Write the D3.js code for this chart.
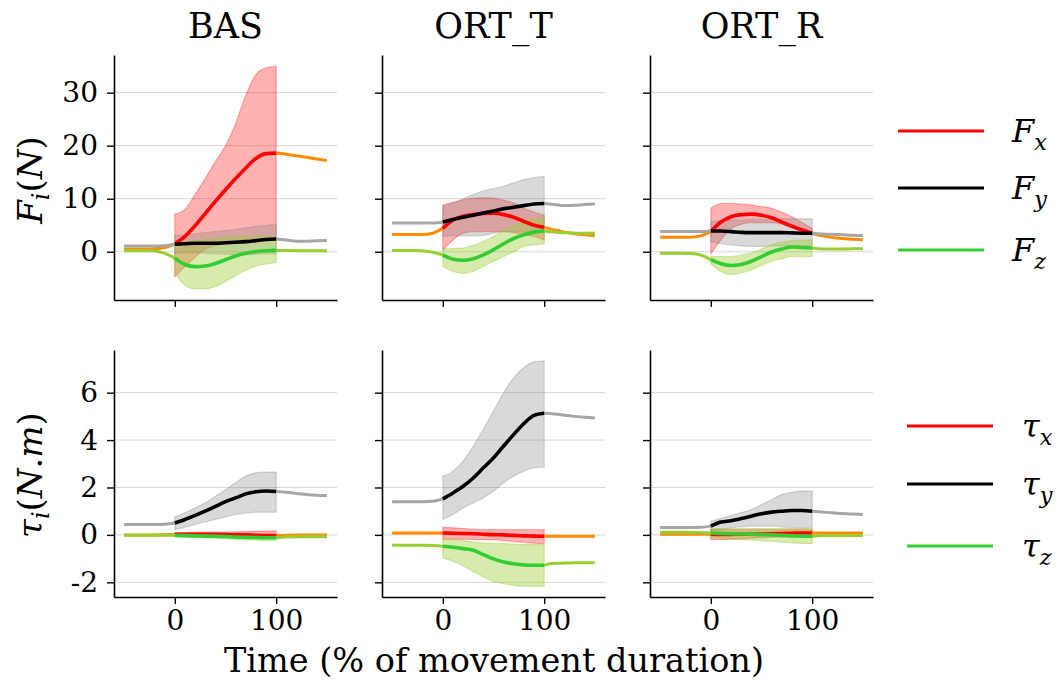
<!DOCTYPE html>
<html>
<head>
<meta charset="utf-8">
<script src="https://d3js.org/d3.v7.min.js"></script>
<style>
  body { margin: 0; background: #fff; }
  svg text { fill: #000; font-family: 'DejaVu Serif', serif; }
</style>
</head>
<body>
<svg id="plot" width="1060" height="681"></svg>
<script>
// ---- data ----
const groups = ["BAS", "ORT_T", "ORT_R"];
// mean curves sampled every 10 % from -50 to 150
const time = [-50, -40, -30, -20, -10, 0, 10, 20, 30, 40, 50, 60, 70, 80, 90, 100, 110, 120, 130, 140, 150];
// spread bands sampled every 10 % over the movement (0..100)
const bandTime = [0, 10, 20, 30, 40, 50, 60, 70, 80, 90, 100];

const forceTicks = [0, 10, 20, 30];
const torqueTicks = [-2, 0, 2, 4, 6];
const timeTicks = [0, 100];

// BAS forces
const BAS_Fx = [0.5, 0.5, 0.5, 0.55, 0.8, 1.5, 2.9, 4.9, 7.2, 9.5, 11.7, 13.8, 15.8, 17.6, 18.5, 18.6, 18.4, 18.1, 17.8, 17.5, 17.2];
const BAS_Fx_lo = [-4.7, -2.8, -1.0, 0.5, 1.2, 1.6, 2.0, 2.3, 2.5, 2.4, 2.2];
const BAS_Fx_hi = [7.1, 8.0, 10.8, 13.8, 17.0, 20.0, 24.2, 29.5, 33.4, 34.7, 35.0];
const BAS_Fy = [1.1, 1.1, 1.1, 1.1, 1.15, 1.4, 1.5, 1.6, 1.6, 1.6, 1.7, 1.8, 1.9, 2.1, 2.3, 2.4, 2.2, 2.0, 2.0, 2.05, 2.1];
const BAS_Fy_lo = [-0.3, -0.2, -0.2, -0.3, -0.4, -0.5, -0.5, -0.6, -0.5, -0.4, -0.4];
const BAS_Fy_hi = [3.1, 3.2, 3.4, 3.6, 3.8, 4.0, 4.2, 4.5, 4.8, 5.0, 5.2];
const BAS_Fz = [0.2, 0.2, 0.2, 0.15, -0.3, -1.2, -2.4, -2.8, -2.7, -2.2, -1.5, -0.8, -0.3, 0.05, 0.2, 0.25, 0.25, 0.2, 0.2, 0.2, 0.2];
const BAS_Fz_lo = [-4.0, -6.3, -7.0, -7.0, -6.6, -5.6, -4.5, -3.5, -2.7, -2.3, -2.0];
const BAS_Fz_hi = [1.8, 1.9, 2.1, 2.3, 2.5, 2.7, 2.8, 2.9, 2.9, 2.9, 2.9];

// ORT_T forces
const ORTT_Fx = [3.25, 3.25, 3.25, 3.25, 3.5, 4.4, 6.0, 6.7, 7.0, 7.2, 7.25, 7.0, 6.5, 5.7, 5.0, 4.6, 4.1, 3.7, 3.4, 3.2, 3.0];
const ORTT_Fx_lo = [0.25, 2.2, 3.5, 3.8, 3.8, 3.8, 3.8, 3.6, 3.2, 2.9, 2.2];
const ORTT_Fx_hi = [8.8, 9.3, 9.8, 10.1, 10.2, 10.1, 9.7, 9.2, 8.2, 7.5, 6.9];
const ORTT_Fy = [5.4, 5.4, 5.4, 5.4, 5.4, 5.6, 6.1, 6.5, 6.9, 7.3, 7.7, 8.1, 8.4, 8.7, 9.0, 9.1, 8.9, 8.7, 8.75, 8.9, 9.0];
const ORTT_Fy_lo = [2.9, 3.0, 3.0, 3.0, 3.1, 3.5, 3.8, 3.8, 3.8, 4.0, 4.0];
const ORTT_Fy_hi = [8.5, 9.2, 10.0, 10.8, 11.5, 11.9, 12.4, 13.0, 13.6, 14.0, 14.2];
const ORTT_Fz = [0.25, 0.25, 0.25, 0.2, -0.1, -0.6, -1.4, -1.6, -1.3, -0.6, 0.4, 1.5, 2.5, 3.2, 3.7, 3.9, 3.7, 3.6, 3.5, 3.5, 3.5];
const ORTT_Fz_lo = [-2.75, -3.7, -4.1, -3.7, -2.75, -1.8, -0.9, 0.0, 1.0, 1.3, 1.5];
const ORTT_Fz_hi = [0.55, 0.6, 0.7, 1.2, 1.9, 2.9, 4.0, 4.9, 5.7, 6.1, 6.3];

// ORT_R forces
const ORTR_Fx = [2.75, 2.75, 2.75, 2.75, 3.0, 3.8, 5.6, 6.6, 7.0, 7.1, 6.9, 6.4, 5.6, 4.8, 4.1, 3.5, 3.0, 2.7, 2.5, 2.35, 2.25];
const ORTR_Fx_lo = [-0.4, 2.25, 4.4, 5.2, 5.5, 5.5, 5.5, 5.2, 4.75, 4.0, 3.2];
const ORTR_Fx_hi = [8.2, 9.1, 9.1, 9.0, 8.8, 8.5, 8.2, 7.5, 6.6, 5.5, 4.4];
const ORTR_Fy = [3.8, 3.8, 3.8, 3.8, 3.8, 3.9, 3.9, 3.8, 3.65, 3.6, 3.6, 3.6, 3.6, 3.55, 3.5, 3.5, 3.35, 3.3, 3.2, 3.1, 3.05];
const ORTR_Fy_lo = [1.9, 1.5, 1.3, 1.1, 1.0, 1.0, 1.1, 1.1, 1.1, 1.1, 1.1];
const ORTR_Fy_hi = [5.7, 5.9, 6.0, 6.0, 6.1, 6.1, 6.1, 6.2, 6.2, 6.2, 6.2];
const ORTR_Fz = [-0.3, -0.3, -0.3, -0.35, -0.6, -1.5, -2.25, -2.6, -2.4, -1.8, -0.9, -0.05, 0.5, 0.9, 0.8, 0.7, 0.5, 0.5, 0.5, 0.55, 0.55];
const ORTR_Fz_lo = [-2.25, -3.7, -4.3, -4.0, -3.4, -2.6, -1.8, -1.3, -0.9, -0.9, -0.9];
const ORTR_Fz_hi = [-0.9, -0.9, -0.9, -0.6, -0.25, 0.5, 1.3, 1.8, 2.1, 2.2, 2.25];

// BAS torques
const BAS_Tx = [0.0, 0.0, 0.0, 0.0, 0.01, 0.02, 0.03, 0.03, 0.02, 0.02, 0.01, 0.0, 0.0, -0.02, -0.03, -0.03, -0.01, 0.0, 0.0, 0.0, 0.0];
const BAS_Tx_lo = [-0.05, -0.06, -0.07, -0.08, -0.09, -0.1, -0.11, -0.12, -0.13, -0.14, -0.15];
const BAS_Tx_hi = [0.1, 0.1, 0.11, 0.12, 0.12, 0.12, 0.13, 0.14, 0.15, 0.16, 0.17];
const BAS_Ty = [0.44, 0.44, 0.44, 0.44, 0.45, 0.5, 0.65, 0.82, 1.0, 1.2, 1.4, 1.56, 1.73, 1.82, 1.85, 1.83, 1.8, 1.75, 1.7, 1.67, 1.66];
const BAS_Ty_lo = [0.22, 0.32, 0.44, 0.55, 0.65, 0.76, 0.86, 0.92, 0.96, 0.96, 0.96];
const BAS_Ty_hi = [0.75, 0.93, 1.14, 1.35, 1.63, 1.9, 2.2, 2.48, 2.62, 2.65, 2.65];
const BAS_Tz = [-0.01, -0.01, -0.01, -0.01, -0.01, -0.02, -0.03, -0.04, -0.05, -0.06, -0.07, -0.09, -0.1, -0.11, -0.12, -0.12, -0.09, -0.08, -0.08, -0.08, -0.08];
const BAS_Tz_lo = [-0.06, -0.08, -0.1, -0.12, -0.14, -0.16, -0.18, -0.2, -0.22, -0.23, -0.24];
const BAS_Tz_hi = [0.02, 0.02, 0.02, 0.01, 0.01, 0.0, 0.0, 0.0, -0.01, -0.02, -0.02];

// ORT_T torques
const ORTT_Tx = [0.08, 0.08, 0.08, 0.08, 0.08, 0.08, 0.07, 0.06, 0.05, 0.03, 0.01, 0.0, -0.02, -0.04, -0.05, -0.06, -0.06, -0.06, -0.06, -0.06, -0.06];
const ORTT_Tx_lo = [-0.17, -0.18, -0.18, -0.19, -0.2, -0.2, -0.24, -0.28, -0.32, -0.35, -0.37];
const ORTT_Tx_hi = [0.32, 0.3, 0.27, 0.24, 0.22, 0.22, 0.22, 0.22, 0.22, 0.22, 0.22];
const ORTT_Ty = [1.4, 1.4, 1.4, 1.4, 1.42, 1.52, 1.77, 2.05, 2.4, 2.83, 3.25, 3.75, 4.24, 4.7, 5.04, 5.13, 5.1, 5.05, 5.0, 4.96, 4.93];
const ORTT_Ty_lo = [0.65, 0.86, 1.14, 1.35, 1.56, 1.85, 2.2, 2.48, 2.69, 2.83, 2.86];
const ORTT_Ty_hi = [2.48, 2.69, 3.11, 3.75, 4.45, 5.23, 6.0, 6.63, 7.06, 7.3, 7.34];
const ORTT_Tz = [-0.44, -0.44, -0.44, -0.44, -0.45, -0.48, -0.52, -0.58, -0.65, -0.83, -1.01, -1.14, -1.22, -1.27, -1.28, -1.28, -1.2, -1.19, -1.18, -1.18, -1.18];
const ORTT_Tz_lo = [-0.97, -1.11, -1.3, -1.54, -1.77, -1.96, -2.06, -2.13, -2.17, -2.17, -2.17];
const ORTT_Tz_hi = [-0.17, -0.2, -0.24, -0.3, -0.34, -0.36, -0.37, -0.39, -0.41, -0.41, -0.41];

// ORT_R torques
const ORTR_Tx = [0.03, 0.03, 0.03, 0.03, 0.03, 0.03, 0.02, 0.02, 0.03, 0.03, 0.04, 0.05, 0.06, 0.07, 0.08, 0.08, 0.08, 0.08, 0.08, 0.08, 0.08];
const ORTR_Tx_lo = [-0.2, -0.19, -0.18, -0.16, -0.14, -0.12, -0.1, -0.09, -0.08, -0.08, -0.08];
const ORTR_Tx_hi = [0.22, 0.22, 0.22, 0.22, 0.22, 0.22, 0.22, 0.22, 0.22, 0.22, 0.22];
const ORTR_Ty = [0.31, 0.31, 0.31, 0.31, 0.32, 0.37, 0.54, 0.6, 0.69, 0.79, 0.89, 0.96, 1.0, 1.03, 1.03, 1.0, 0.97, 0.93, 0.9, 0.88, 0.86];
const ORTR_Ty_lo = [0.15, 0.22, 0.3, 0.34, 0.37, 0.37, 0.37, 0.34, 0.3, 0.3, 0.3];
const ORTR_Ty_hi = [0.58, 0.7, 0.82, 0.94, 1.07, 1.28, 1.49, 1.7, 1.8, 1.85, 1.85];
const ORTR_Tz = [0.11, 0.11, 0.11, 0.11, 0.1, 0.08, 0.06, 0.05, 0.04, 0.03, 0.01, 0.0, -0.02, -0.04, -0.05, -0.06, -0.03, -0.03, -0.03, -0.03, -0.03];
const ORTR_Tz_lo = [-0.13, -0.15, -0.18, -0.2, -0.22, -0.24, -0.27, -0.3, -0.34, -0.36, -0.37];
const ORTR_Tz_hi = [0.27, 0.27, 0.27, 0.27, 0.27, 0.27, 0.27, 0.27, 0.27, 0.27, 0.27];

// table: row -> group -> [mean, lo, hi] per component
const panels = [
  { BAS: [[BAS_Fx, BAS_Fx_lo, BAS_Fx_hi], [BAS_Fy, BAS_Fy_lo, BAS_Fy_hi], [BAS_Fz, BAS_Fz_lo, BAS_Fz_hi]],
    ORT_T: [[ORTT_Fx, ORTT_Fx_lo, ORTT_Fx_hi], [ORTT_Fy, ORTT_Fy_lo, ORTT_Fy_hi], [ORTT_Fz, ORTT_Fz_lo, ORTT_Fz_hi]],
    ORT_R: [[ORTR_Fx, ORTR_Fx_lo, ORTR_Fx_hi], [ORTR_Fy, ORTR_Fy_lo, ORTR_Fy_hi], [ORTR_Fz, ORTR_Fz_lo, ORTR_Fz_hi]] },
  { BAS: [[BAS_Tx, BAS_Tx_lo, BAS_Tx_hi], [BAS_Ty, BAS_Ty_lo, BAS_Ty_hi], [BAS_Tz, BAS_Tz_lo, BAS_Tz_hi]],
    ORT_T: [[ORTT_Tx, ORTT_Tx_lo, ORTT_Tx_hi], [ORTT_Ty, ORTT_Ty_lo, ORTT_Ty_hi], [ORTT_Tz, ORTT_Tz_lo, ORTT_Tz_hi]],
    ORT_R: [[ORTR_Tx, ORTR_Tx_lo, ORTR_Tx_hi], [ORTR_Ty, ORTR_Ty_lo, ORTR_Ty_hi], [ORTR_Tz, ORTR_Tz_lo, ORTR_Tz_hi]] }
];

// ---- styling ----
const mainColors = ["#ff0000", "#000000", "#32cd32"];
const sideColors = ["#ff8c00", "#a6a6a6", "#9acd32"];
const bandColors = ["#ff0000", "#808080", "#9acd32"];
const bandAlpha = [0.3, 0.3, 0.4];
const serif = "'DejaVu Serif', serif";

const svg = d3.select("svg#plot");
const colLeft = [114, 382, 650];
const colWidth = 223;
const rowTop = [55, 350];
const rowHeight = [245, 247];
const yDomains = [[-9.1, 37.1], [-2.62, 7.8]];
const yTicks = [forceTicks, torqueTicks];

const xScales = colLeft.map(l => d3.scaleLinear().domain([-60, 160]).range([l, l + colWidth]));
const yScales = rowTop.map((t, r) => d3.scaleLinear().domain(yDomains[r]).range([t + rowHeight[r], t]));

panels.forEach((row, r) => {
  const y = yScales[r];
  groups.forEach((g, c) => {
    const x = xScales[c];
    const gp = svg.append("g");

    // grid
    gp.selectAll("line.grid").data(yTicks[r]).join("line")
      .attr("x1", x.range()[0]).attr("x2", x.range()[1])
      .attr("y1", d => y(d)).attr("y2", d => y(d))
      .attr("stroke", "#d6d6d6").attr("stroke-width", 1);

    const line = d3.line().x(d => x(d[0])).y(d => y(d[1])).curve(d3.curveMonotoneX);
    const area = d3.area().x(d => x(d[0])).y0(d => y(d[1])).y1(d => y(d[2])).curve(d3.curveMonotoneX);

    // bands
    row[g].forEach((s, k) => {
      const pts = bandTime.map((t, i) => [t, s[1][i], s[2][i]]);
      gp.append("path").attr("d", area(pts))
        .attr("fill", bandColors[k]).attr("fill-opacity", bandAlpha[k])
        .attr("stroke", bandColors[k]).attr("stroke-opacity", bandAlpha[k]).attr("stroke-width", 1.2);
    });

    // mean lines: before / during / after the movement
    row[g].forEach((s, k) => {
      const pts = time.map((t, i) => [t, s[0][i]]);
      const pre = pts.filter(p => p[0] <= 0);
      const mid = pts.filter(p => p[0] >= 0 && p[0] <= 100);
      const post = pts.filter(p => p[0] >= 100);
      [[pre, sideColors[k], 3], [post, sideColors[k], 3], [mid, mainColors[k], 3.6]].forEach(([seg, col, w]) => {
        gp.append("path").attr("d", line(seg))
          .attr("fill", "none").attr("stroke", col).attr("stroke-width", w);
      });
    });

    // axes
    const ay = d3.axisLeft(y).tickValues(yTicks[r]).tickSize(7).tickSizeOuter(0).tickPadding(9)
      .tickFormat(d => c === 0 ? String(d) : "");
    const gy = gp.append("g").attr("transform", `translate(${x.range()[0]},0)`).call(ay);
    const ax = d3.axisBottom(x).tickValues(timeTicks).tickSize(7).tickSizeOuter(0).tickPadding(6)
      .tickFormat(d => r === 1 ? String(d) : "");
    const gx = gp.append("g").attr("transform", `translate(0,${y.range()[0]})`).call(ax);
    [gy, gx].forEach(a => {
      a.attr("font-family", null);
      a.select(".domain").attr("stroke", "#000").attr("stroke-width", 1.6);
      a.selectAll(".tick line").attr("stroke", "#000").attr("stroke-width", 1.4);
      a.selectAll(".tick text").style("font-family", serif).attr("font-size", 28).attr("fill", "#000");
    });

    if (r === 0) {
      svg.append("text").attr("x", (x.range()[0] + x.range()[1]) / 2).attr("y", 38)
        .attr("text-anchor", "middle").attr("font-size", 35).text(g);
    }
  });
});

// math-style labels
function mathLabel(sel, parts) {
  parts.forEach(p => {
    const t = sel.append("tspan").text(p.t);
    if (p.i) t.attr("font-style", "italic");
    if (p.sub) t.attr("font-size", "0.7em");
    if (p.dy) t.attr("dy", p.dy);
  });
}
const yl1 = svg.append("text").attr("transform", "translate(42,180) rotate(-90)")
  .attr("text-anchor", "middle").attr("font-size", 34);
mathLabel(yl1, [{t: "F", i: true}, {t: "i", i: true, sub: true, dy: 7}, {t: "(", dy: -7}, {t: "N", i: true}, {t: ")"}]);
const yl2 = svg.append("text").attr("transform", "translate(42,475) rotate(-90)")
  .attr("text-anchor", "middle").attr("font-size", 34);
mathLabel(yl2, [{t: "τ", i: true}, {t: "i", i: true, sub: true, dy: 7}, {t: "(", dy: -7}, {t: "N", i: true}, {t: "."}, {t: "m", i: true}, {t: ")"}]);

// x label
svg.append("text").attr("x", 494).attr("y", 672).attr("text-anchor", "middle")
  .attr("font-size", 33.5).text("Time (% of movement duration)");

// legends
const legendSets = [
  { x1: 898, x2: 984, tx: 1012, ys: [131, 188, 250], sym: "F" },
  { x1: 907, x2: 993, tx: 1022, ys: [426, 484, 546], sym: "τ" }
];
const comps = ["x", "y", "z"];
legendSets.forEach(L => {
  L.ys.forEach((yy, k) => {
    svg.append("line").attr("x1", L.x1).attr("x2", L.x2).attr("y1", yy).attr("y2", yy)
      .attr("stroke", mainColors[k]).attr("stroke-width", 3);
    const t = svg.append("text").attr("x", L.tx).attr("y", yy + 11).attr("font-size", 32);
    mathLabel(t, [{t: L.sym, i: true}, {t: comps[k], i: true, sub: true, dy: 8}]);
  });
});
</script>
</body>
</html>
